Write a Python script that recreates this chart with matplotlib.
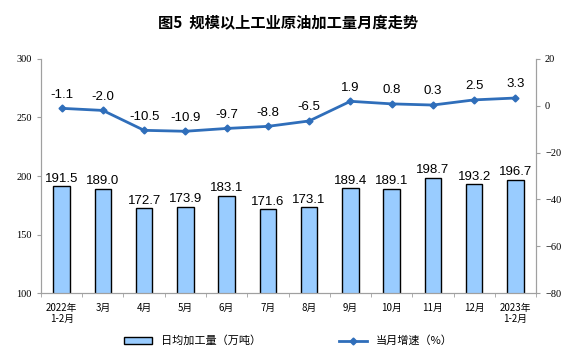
import numpy as np
import matplotlib.pyplot as plt
from matplotlib.lines import Line2D
from matplotlib.patches import Patch

plt.rcParams['font.family'] = ['Noto Sans CJK SC', 'DejaVu Sans']

months = ["2022年\n1-2月", "3月", "4月", "5月", "6月", "7月", "8月",
          "9月", "10月", "11月", "12月", "2023年\n1-2月"]
daily_output = [191.5, 189.0, 172.7, 173.9, 183.1, 171.6, 173.1,
                189.4, 189.1, 198.7, 193.2, 196.7]
growth = [-1.1, -2.0, -10.5, -10.9, -9.7, -8.8, -6.5,
          1.9, 0.8, 0.3, 2.5, 3.3]

fig = plt.figure(figsize=(5.77, 3.57), dpi=100)
ax = fig.add_axes([0.071, 0.179, 0.858, 0.656])
ax2 = ax.twinx()

x = np.arange(len(months))
ax.bar(x, daily_output, width=0.4, color="#99CCFF", edgecolor="black",
       linewidth=1.0, zorder=2)
for xi, v in zip(x, daily_output):
    ax.text(xi, v + 1.2, f"{v:.1f}", ha="center", va="bottom",
            fontsize=9.5, family="Liberation Sans")

ax2.plot(x, growth, color="#2F6EBA", linewidth=2, marker="D",
         markersize=3.5, zorder=3)
for xi, v in zip(x, growth):
    ax2.text(xi, v + 3.3, f"{v:.1f}", ha="center", va="bottom",
             fontsize=9.5, family="Liberation Sans")

ax.set_ylim(100, 300)
ax.set_yticks([100, 150, 200, 250, 300])
ax2.set_ylim(-80, 20)
ax2.set_yticks([-80, -60, -40, -20, 0, 20])
ax.set_xlim(-0.5, len(months) - 0.5)

ax.set_xticks(x)
ax.set_xticklabels(months, fontsize=7)
ax.set_xticks(np.arange(-0.5, len(months), 1), minor=True)
ax.tick_params(axis="x", which="major", length=0, pad=7)
ax.tick_params(axis="x", which="minor", length=3, color="#A0A0A0")
ax.tick_params(axis="y", length=3, color="#A0A0A0", labelsize=7.5)
ax2.tick_params(axis="y", length=3, color="#A0A0A0", labelsize=7.5)
for lab in ax.get_yticklabels() + ax2.get_yticklabels():
    lab.set_family("Liberation Serif")

for a in (ax, ax2):
    a.spines["top"].set_visible(False)
    for s in ("left", "right", "bottom"):
        a.spines[s].set_color("#A0A0A0")

fig.text(0.5, 0.935, "图5  规模以上工业原油加工量月度走势", ha="center",
         va="center", fontsize=11, fontweight="bold")

handles = [Patch(facecolor="#99CCFF", edgecolor="black", linewidth=1.0),
           Line2D([0], [0], color="#2F6EBA", linewidth=2, marker="D",
                  markersize=3.5)]
fig.legend(handles, ["日均加工量（万吨）", "当月增速（%）"], loc="center",
           bbox_to_anchor=(0.5, 0.045), ncol=2, frameon=False, fontsize=8,
           columnspacing=7, handlelength=2.5, handleheight=0.6)

fig.savefig("out.png", dpi=100)
